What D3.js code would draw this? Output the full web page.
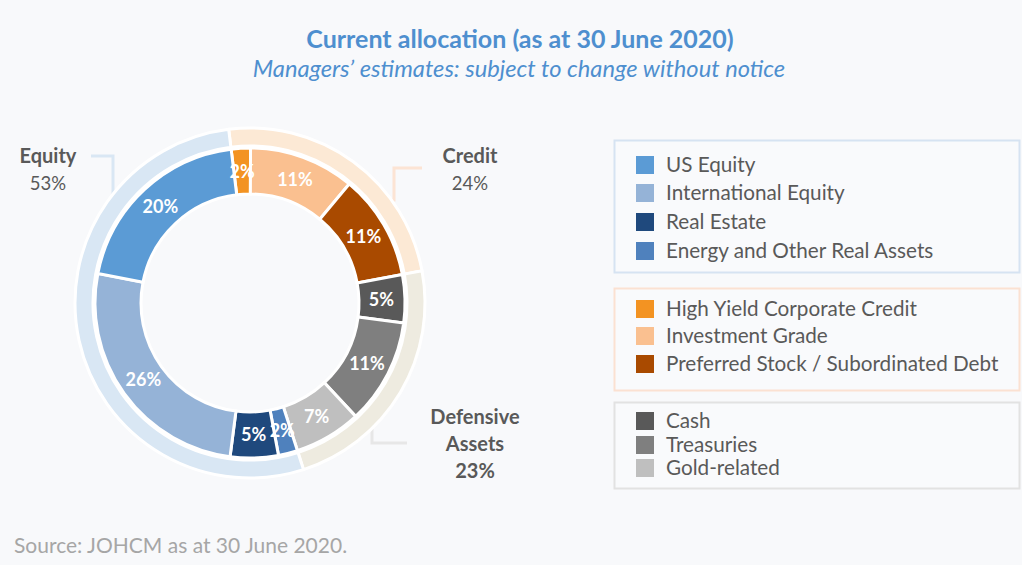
<!DOCTYPE html>
<html><head><meta charset="utf-8">
<script src="https://cdn.jsdelivr.net/npm/d3@7"></script>
<style>
html,body{margin:0;padding:0;background:#f8f9fb;}
svg{display:block;}
text{font-family:Lato,"Open Sans",sans-serif;}
</style></head>
<body>
<svg id="chart" width="1022" height="565"></svg>
<script>
// ---- data ----
const categories = ["US Equity","International Equity","Real Estate","Energy and Other Real Assets",
  "High Yield Corporate Credit","Investment Grade","Preferred Stock / Subordinated Debt",
  "Cash","Treasuries","Gold-related"];
const values = [20,26,5,2,2,11,11,5,11,7];
const sliceColors = ["#5b9bd5","#95b3d7","#1f497d","#4f81bd","#f39322","#fac090","#a94a00","#595959","#7f7f7f","#bfbfbf"];
// clockwise drawing order starting near 12 o'clock
const ringOrder = ["High Yield Corporate Credit","Investment Grade","Preferred Stock / Subordinated Debt",
  "Cash","Treasuries","Gold-related","Energy and Other Real Assets","Real Estate","International Equity","US Equity"];
const groups = ["Credit","Defensive Assets","Equity"];
const groupValues = [24,23,53];
const groupColors = ["#fce9d5","#eeebe0","#d9e7f4"];
const legendGroups = [
  ["US Equity","International Equity","Real Estate","Energy and Other Real Assets"],
  ["High Yield Corporate Credit","Investment Grade","Preferred Stock / Subordinated Debt"],
  ["Cash","Treasuries","Gold-related"]
];
const legendBorders = ["#d6e3f2","#fbe1d2","#e2e2e2"];

const svg = d3.select("#chart");
const cx = 250, cy = 303;
const startA = -7 * Math.PI / 180;

// title
svg.append("text").attr("x",520).attr("y",48).attr("text-anchor","middle")
  .attr("font-size",25).attr("font-weight","bold").attr("fill","#4e8fcf")
  .text("Current allocation (as at 30 June 2020)");
svg.append("text").attr("x",519).attr("y",77).attr("text-anchor","middle")
  .attr("font-size",23.7).attr("font-style","italic").attr("fill","#4e8fcf")
  .text("Managers\u2019 estimates: subject to change without notice");

// leader lines (drawn under rings)
const lines = svg.append("g").attr("fill","none").attr("stroke-width",3);
lines.append("path").attr("d","M91,156H113V210").attr("stroke","#d9e7f4");
lines.append("path").attr("d","M422,168H394V200H365").attr("stroke","#fce4d4");
lines.append("path").attr("d","M372,400V443H407").attr("stroke","#e7e7e7");

const g = svg.append("g").attr("transform",`translate(${cx},${cy})`);

// outer group ring
const pieOuter = d3.pie().sort(null).value(d=>d.v).startAngle(startA).endAngle(startA+2*Math.PI);
const outerData = pieOuter(groups.map((k,i)=>({k, v:groupValues[i], c:groupColors[i]})));
const arcOuter = d3.arc().innerRadius(157).outerRadius(175);
g.selectAll("path.outer").data(outerData).join("path").attr("class","outer")
  .attr("d",arcOuter).attr("fill",d=>d.data.c).attr("stroke","#ffffff").attr("stroke-width",3);

// inner slices
const pieInner = d3.pie().sort(null).value(d=>d.v).startAngle(startA).endAngle(startA+2*Math.PI);
const innerData = pieInner(ringOrder.map(k=>{const i=categories.indexOf(k);return {k, v:values[i], c:sliceColors[i]};}));
const arcInner = d3.arc().innerRadius(109).outerRadius(155);
g.selectAll("path.inner").data(innerData).join("path").attr("class","inner")
  .attr("d",arcInner).attr("fill",d=>d.data.c).attr("stroke","#ffffff").attr("stroke-width",3);
const arcLabel = d3.arc().innerRadius(111).outerRadius(152);
g.selectAll("text.pct").data(innerData).join("text").attr("class","pct")
  .attr("transform",d=>`translate(${arcLabel.centroid(d)})`)
  .attr("text-anchor","middle").attr("dy","0.36em")
  .attr("font-size",18).attr("font-weight","bold").attr("fill","#ffffff")
  .text(d=>d.data.v+"%");

// group labels
const lab = svg.append("g").attr("fill","#595959").attr("text-anchor","middle");
lab.append("text").attr("x",48).attr("y",163).attr("font-size",20).attr("font-weight","bold").text(groups[2]);
lab.append("text").attr("x",48).attr("y",190).attr("font-size",18.5).text(groupValues[2]+"%");
lab.append("text").attr("x",470).attr("y",163).attr("font-size",20).attr("font-weight","bold").text(groups[0]);
lab.append("text").attr("x",470).attr("y",190).attr("font-size",18.5).text(groupValues[0]+"%");
lab.append("text").attr("x",475).attr("y",424).attr("font-size",20).attr("font-weight","bold").text("Defensive");
lab.append("text").attr("x",475).attr("y",451).attr("font-size",20).attr("font-weight","bold").text("Assets");
lab.append("text").attr("x",475).attr("y",478).attr("font-size",20).attr("font-weight","bold").text(groupValues[1]+"%");

// legend
const boxes = [{y:140,h:132,rows:[165,193,222,251]},{y:288,h:102,rows:[309,336,364]},{y:402,h:86,rows:[421,445,468]}];
legendGroups.forEach((items,gi)=>{
  const b = boxes[gi];
  svg.append("rect").attr("x",614.5).attr("y",b.y+0.5).attr("width",405).attr("height",b.h)
    .attr("fill","#f9fafc").attr("stroke",legendBorders[gi]).attr("stroke-width",2);
  items.forEach((k,j)=>{
    const i = categories.indexOf(k);
    svg.append("rect").attr("x",636).attr("y",b.rows[j]-9).attr("width",18).attr("height",18).attr("fill",sliceColors[i]);
    svg.append("text").attr("x",666).attr("y",b.rows[j]).attr("dy","0.35em")
      .attr("font-size",20.7).attr("fill","#595959").text(k);
  });
});

// source
svg.append("text").attr("x",14).attr("y",553).attr("font-size",21).attr("fill","#a6a6a6")
  .text("Source: JOHCM as at 30 June 2020.");
</script>
</body></html>
